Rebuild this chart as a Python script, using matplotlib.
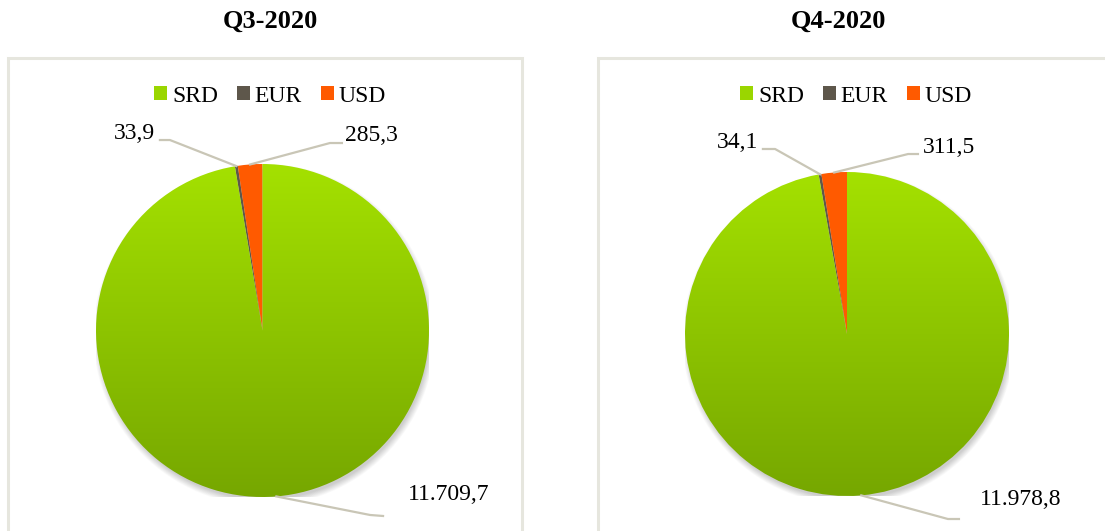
import numpy as np
import matplotlib
matplotlib.use("Agg")
import matplotlib.pyplot as plt
from matplotlib.patches import Patch, Rectangle, Circle
from matplotlib.colors import LinearSegmentedColormap

#--- data
currencies = ["SRD", "EUR", "USD"]
titles = ["Q3-2020", "Q4-2020"]
q3_values = [11709.7, 33.9, 285.3]
q4_values = [11978.8, 34.1, 311.5]
q3_labels = ["11.709,7", "33,9", "285,3"]
q4_labels = ["11.978,8", "34,1", "311,5"]

colors = ["#9ad600", "#5e574b", "#ff5a00"]
line_color = "#c9c6b6"
border_color = "#e6e6de"

W, H = 1105, 531
plt.rcParams['font.family'] = ['Liberation Serif', 'DejaVu Serif']

#---------------

def add_pie(fig, cx, cy, r, values, labels, label_pos):
    """
    cx, cy, r in pixels (image coords, y down)
    label_pos: per slice (elbow, line_end, text_xy, ha) in radius units
    """
    ax = fig.add_axes([(cx - r) / W, 1 - (cy + r) / H, 2 * r / W, 2 * r / H])
    ax.axis('off')

    # soft shadow, mostly bottom-right
    for i in range(10):
        ax.add_patch(Circle((0.01, -0.025), 0.99 + 0.004 * i, facecolor='k',
                            alpha=0.02, edgecolor='none', zorder=0))

    wedges, _ = ax.pie(values, colors=colors, startangle=90, counterclock=False,
                       radius=1, wedgeprops=dict(linewidth=0))
    for w in wedges:
        w.set_zorder(2)

    # vertical gradient on SRD slice
    cmap = LinearSegmentedColormap.from_list("g", ["#76a700", "#a4e100"])
    grad = np.linspace(0, 1, 256).reshape(-1, 1)
    im = ax.imshow(grad, cmap=cmap, extent=[-1, 1, -1, 1], origin='lower',
                   aspect='auto', zorder=2)
    im.set_clip_path(wedges[0])
    wedges[0].set_facecolor('none')

    # leader lines + labels
    for w, lab, (elbow, end, txt, ha) in zip(wedges, labels, label_pos):
        mid = np.deg2rad((w.theta1 + w.theta2) / 2)
        p0 = (np.cos(mid), np.sin(mid))
        ax.plot([p0[0], elbow[0], end[0]], [p0[1], elbow[1], end[1]],
                color=line_color, lw=1.6, zorder=3, clip_on=False)
        ax.text(txt[0], txt[1], lab, ha=ha, va='center', fontsize=17,
                color='black', clip_on=False)

    ax.set_xlim(-1, 1)
    ax.set_ylim(-1, 1)
    return ax

def add_panel(fig, x0, x1, title, title_x, legend_x):
    fig.patches.append(Rectangle((x0 / W, -0.1), (x1 - x0) / W, 1.1 - 58 / H,
                                 transform=fig.transFigure, fill=False,
                                 edgecolor=border_color, lw=2.2))
    fig.text(title_x / W, 1 - 21 / H, title, ha='center', va='center',
             fontsize=19, fontweight='bold')
    handles = [Patch(facecolor=c, edgecolor='none') for c in ["#9ad600", colors[1], colors[2]]]
    fig.legend(handles, currencies, loc='center', bbox_to_anchor=(legend_x / W, 1 - 96 / H),
               ncol=3, frameon=False, fontsize=17, handlelength=0.55, handleheight=0.55,
               handletextpad=0.2, columnspacing=0.8, borderpad=0)

def main():
    fig = plt.figure(figsize=(W / 100, H / 100), dpi=100)

    add_panel(fig, 8, 522, titles[0], 270, 270)
    add_panel(fig, 598, 1110, titles[1], 838, 856)

    q3_pos = [((0.646, -1.108), (0.724, -1.114), (0.874, -0.982), 'left'),
              ((-0.556, 1.144), (-0.616, 1.144), (-0.646, 1.186), 'right'),
              ((0.405, 1.126), (0.477, 1.126), (0.495, 1.174), 'left')]
    q4_pos = [((0.623, -1.142), (0.691, -1.142), (0.821, -1.019), 'left'),
              ((-0.444, 1.142), (-0.519, 1.142), (-0.549, 1.185), 'right'),
              ((0.377, 1.111), (0.438, 1.111), (0.469, 1.154), 'left')]

    add_pie(fig, 262.5, 330.5, 166.5, q3_values, q3_labels, q3_pos)
    add_pie(fig, 847, 334, 162, q4_values, q4_labels, q4_pos)

    fig.savefig("out.png", dpi=100)
    plt.close(fig)

#---------------

if __name__ == "__main__":
    main()
